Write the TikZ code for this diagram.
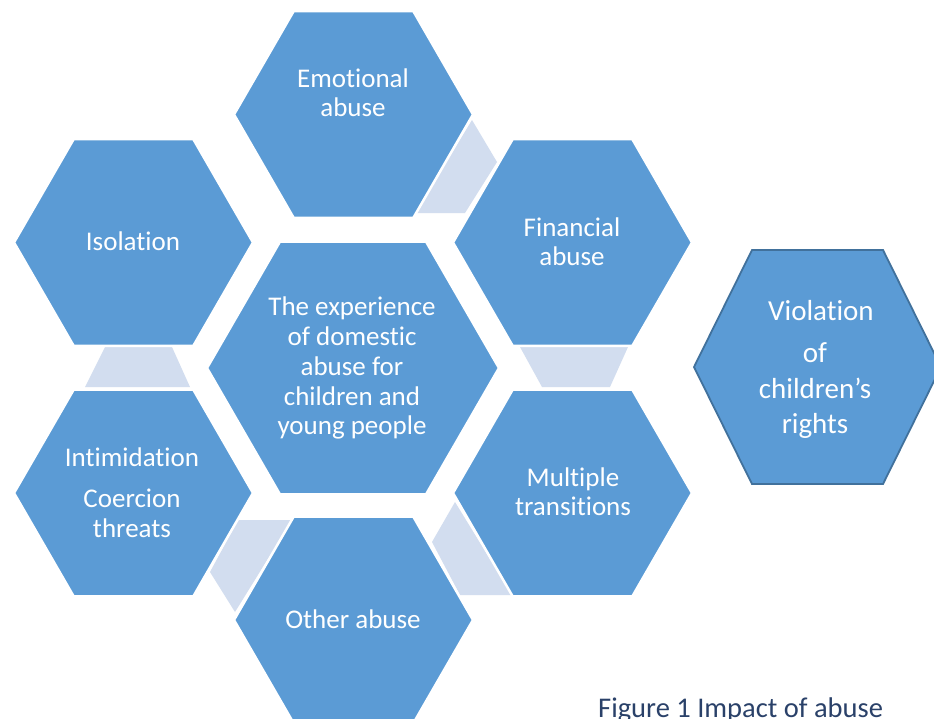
\documentclass[tikz,border=0pt]{standalone}
\usepackage{fontspec}
\setmainfont{Carlito}[RawFeature={-liga;-clig;-calt;-dlig;-rlig}]
\definecolor{hexblue}{HTML}{5B9BD5}
\definecolor{linkblue}{HTML}{D2DDEF}
\definecolor{vborder}{HTML}{41719C}
\definecolor{captioncol}{HTML}{2A4169}
\newcommand\drawhex[3]{\path[hexfill] ({#1+#3},#2) -- ({#1+0.5*#3},{#2-0.866*#3}) -- ({#1-0.5*#3},{#2-0.866*#3}) -- ({#1-#3},#2) -- ({#1-0.5*#3},{#2+0.866*#3}) -- ({#1+0.5*#3},{#2+0.866*#3}) -- cycle;}
\begin{document}
\begin{tikzpicture}[x=1pt,y=-1pt,
  hexfill/.style={fill=hexblue, draw=white, line width=2.5pt, line join=miter},
  link/.style={fill=linkblue},
  lbl/.style={text=white, font=\fontsize{27}{30}\selectfont, anchor=base, inner sep=0pt},
  vlbl/.style={text=white, font=\fontsize{29}{35}\selectfont, anchor=base, inner sep=0pt},
]
\useasboundingbox (0,0) rectangle (934,718);
\fill[white] (0,0) rectangle (934,718);
% connectors
\path[link] (472,120) -- (497,162) -- (465,213) -- (415,213) -- cycle;
\path[link] (105,347) -- (172,347) -- (190,387) -- (85,387) -- cycle;
\path[link] (520,347) -- (628,347) -- (610,387) -- (542,387) -- cycle;
\path[link] (238,520) -- (292,520) -- (235,612) -- (210,572) -- cycle;
\path[link] (455,502) -- (512,595) -- (460,595) -- (432,542) -- cycle;
% hexagons
\drawhex{353.5}{114.5}{119.5}
\drawhex{572.5}{242.5}{119.5}
\drawhex{133.5}{242.5}{119.5}
\drawhex{353}{368}{146}
\drawhex{133.5}{493}{119.5}
\drawhex{572.5}{493}{119.5}
\drawhex{353.5}{620}{119.5}
\path[fill=hexblue, draw=vborder, line width=1.8pt] (694,367) -- (752,250) -- (883,250) -- (941,367) -- (883,484) -- (752,484) -- cycle;
% labels
\node[lbl] (em1) at (353,87) {Emo{}tional};
\node[lbl] (em2) at (353,116) {abuse};
\node[lbl] (fi1) at (572,236) {Financial};
\node[lbl] (fi2) at (572,265) {abuse};
\node[lbl] (is) at (133,250) {Isolation};
\node[lbl] (c1) at (352,315) {The experience};
\node[lbl] (c2) at (352,345) {of domestic};
\node[lbl] (c3) at (352,375) {abuse for};
\node[lbl] (c4) at (352,405) {children and};
\node[lbl] (c5) at (352,434) {young people};
\node[lbl] (in1) at (132,466) {Intimida{}tion};
\node[lbl] (in2) at (132,507) {Coercion};
\node[lbl] (in3) at (132,537) {threats};
\node[lbl] (mu1) at (573,486) {Mul{}tiple};
\node[lbl] (mu2) at (573,515) {transi{}tions};
\node[lbl] (ot) at (353,628) {Other abuse};
\node[vlbl] (v1) at (821,320) {Violation};
\node[vlbl] (v2) at (815,362) {of};
\node[vlbl] (v3) at (815,398) {children’s};
\node[vlbl] (v4) at (815,433) {rights};
\node[anchor=base west, inner sep=0pt, text=captioncol, font=\fontsize{28.5}{30}\selectfont] (cap) at (598,717) {Figure 1 Impact of abuse};
\end{tikzpicture}
\end{document}
